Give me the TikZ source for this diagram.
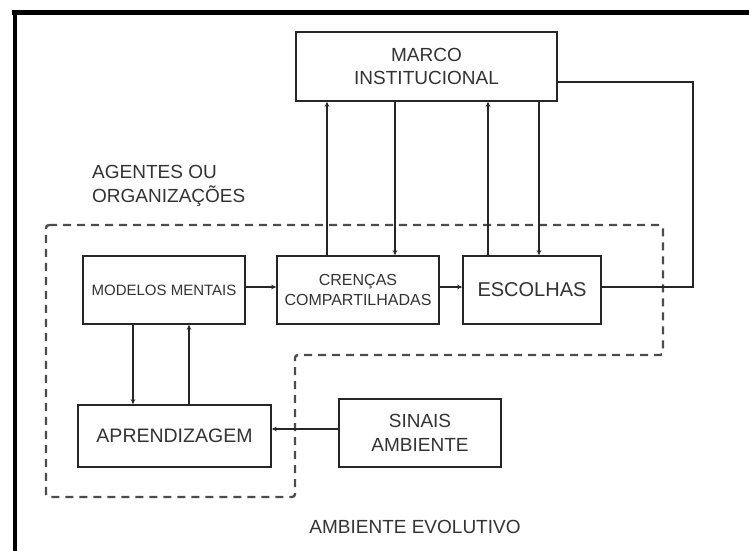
\documentclass[tikz,border=0pt]{standalone}
\usepackage{fontspec}
\setmainfont{Liberation Sans}
\usetikzlibrary{arrows.meta,calc}
\begin{document}
\begin{tikzpicture}[x=1pt,y=-1pt,
  box/.style={draw=black!85, line width=1.6pt, fill=white, inner sep=0pt, align=center, font=\fontsize{19}{23.5}\selectfont, text=black!80},
  conn/.style={draw=black!85, line width=1.4pt},
  arr/.style={conn, -{Stealth[length=5pt,width=4.5pt]}},
  lbl/.style={font=\fontsize{19}{23.5}\selectfont, text=black!80, inner sep=0pt, align=left},
  region/.style={draw=black!70, line width=2.4pt, dash pattern=on 8pt off 6pt, rounded corners=3pt}]
\useasboundingbox (0,0) rectangle (749,551);
\fill[white] (0,0) rectangle (749,551);
% frame
\draw[line width=5pt] (12,12.5) -- (749,12.5);
\draw[line width=4pt] (14.5,10) -- (14.5,551);
% dashed region
\draw[region] (46,225) -- (663,225) -- (663,355) -- (295,355) -- (295,497) -- (46,497) -- cycle;
% labels
\node[lbl, anchor=west] (agentes) at (92,186) {AGENTES OU\\ORGANIZAÇÕES};
\node[lbl, align=center] (ambiente) at (415,527) {AMBIENTE EVOLUTIVO};
% boxes
\node[box, minimum width=261pt, minimum height=69pt] (marco) at (426.5,66.5) {MARCO\\INSTITUCIONAL};
\node[box, minimum width=162pt, minimum height=68pt, font=\fontsize{15}{18}\selectfont] (modelos) at (164,290) {MODELOS MENTAIS};
\node[box, minimum width=162pt, minimum height=68pt, font=\fontsize{16}{20}\selectfont] (crencas) at (358,290) {CRENÇAS\\COMPARTILHADAS};
\node[box, minimum width=138pt, minimum height=68pt, font=\fontsize{20}{24}\selectfont] (escolhas) at (532,290) {ESCOLHAS};
\node[box, minimum width=193pt, minimum height=62pt, font=\fontsize{19.5}{24}\selectfont] (aprend) at (174.5,436) {APRENDIZAGEM};
\node[box, minimum width=162pt, minimum height=68pt] (sinais) at (420,433) {SINAIS\\AMBIENTE};
% helper coordinates
\coordinate (c1) at (327,0);
\coordinate (c2) at (395,0);
\coordinate (c3) at (488,0);
\coordinate (c4) at (539,0);
\coordinate (c5) at (133,0);
\coordinate (c6) at (189,0);
\coordinate (rowA) at (0,287);
\coordinate (rowB) at (0,429);
\coordinate (rowM) at (0,82);
\coordinate (xr) at (693,0);
% connectors
\draw[arr] (crencas.north -| c1) -- (marco.south -| c1);
\draw[arr] (marco.south -| c2) -- (crencas.north -| c2);
\draw[arr] (escolhas.north -| c3) -- (marco.south -| c3);
\draw[arr] (marco.south -| c4) -- (escolhas.north -| c4);
\draw[arr] (modelos.east |- rowA) -- (crencas.west |- rowA);
\draw[arr] (crencas.east |- rowA) -- (escolhas.west |- rowA);
\draw[conn] (escolhas.east |- rowA) -- (xr |- rowA) -- (xr |- rowM) -- (marco.east |- rowM);
\draw[arr] (modelos.south -| c5) -- (aprend.north -| c5);
\draw[arr] (aprend.north -| c6) -- (modelos.south -| c6);
\draw[arr] (sinais.west |- rowB) -- (aprend.east |- rowB);
\end{tikzpicture}
\end{document}
